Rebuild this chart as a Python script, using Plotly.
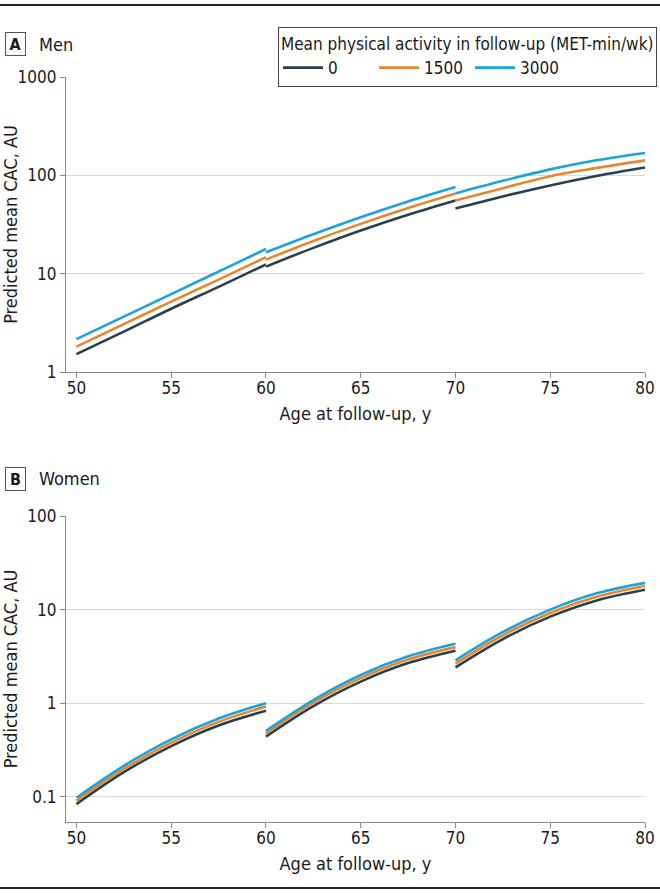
import plotly.graph_objects as go

# ---- data ----
ages_seg1 = [50, 52.5, 55, 57.5, 60]
ages_seg2 = [60, 62.5, 65, 67.5, 70]
ages_seg3 = [70, 72.5, 75, 77.5, 80]
activity_levels = ["0", "1500", "3000"]

# Men: predicted mean CAC (AU)
men_0 = [[1.52, 2.57, 4.4, 7.35, 12.4], [11.8, 18.3, 27.5, 39.8, 55.6], [46, 61, 79, 99, 120]]
men_1500 = [[1.81, 3.07, 5.2, 8.7, 14.7], [13.9, 21.5, 32.1, 46.6, 65.5], [55.6, 74, 98, 119, 142]]
men_3000 = [[2.16, 3.66, 6.2, 10.5, 17.8], [16.5, 25.2, 37.5, 54.2, 76], [65.5, 88, 115, 143, 169]]

# Women: predicted mean CAC (AU)
women_0 = [[0.0834, 0.183, 0.348, 0.578, 0.83], [0.439, 0.93, 1.70, 2.68, 3.63], [2.41, 4.84, 8.4, 12.6, 16.3]]
women_1500 = [[0.0906, 0.198, 0.378, 0.631, 0.92], [0.473, 1.01, 1.85, 2.92, 3.97], [2.64, 5.32, 9.2, 13.8, 17.9]]
women_3000 = [[0.0975, 0.214, 0.41, 0.685, 1.0], [0.506, 1.08, 2.0, 3.17, 4.32], [2.87, 5.77, 10.0, 15.0, 19.3]]

men_ticks = [1, 10, 100, 1000]
women_ticks = [0.1, 1, 10, 100]
x_ticks = [50, 55, 60, 65, 70, 75, 80]

colors = {"0": "#2a3f4d", "1500": "#e8862c", "3000": "#1ca3d9"}
FONT = "Liberation Sans Narrow, DejaVu Sans Condensed, Arial Narrow, sans-serif"
TXT = "#1a1a1a"
AX = "#8a8a8a"

fig = go.Figure()
segs = [ages_seg1, ages_seg2, ages_seg3]
men = {"0": men_0, "1500": men_1500, "3000": men_3000}
women = {"0": women_0, "1500": women_1500, "3000": women_3000}

for lvl in activity_levels:
    for i, ages in enumerate(segs):
        fig.add_trace(go.Scatter(
            x=ages, y=men[lvl][i], mode="lines", line=dict(color=colors[lvl], width=2.6, shape="spline"),
            name=lvl, legendgroup=lvl, showlegend=(i == 0), xaxis="x", yaxis="y"))
for lvl in activity_levels:
    for i, ages in enumerate(segs):
        fig.add_trace(go.Scatter(
            x=ages, y=women[lvl][i], mode="lines", line=dict(color=colors[lvl], width=2.6, shape="spline"),
            name=lvl, legendgroup=lvl, showlegend=False, xaxis="x2", yaxis="y2"))

W, H = 660, 893
def fy(py):
    return 1 - py / H
def fx(px):
    return px / W

xcommon = dict(range=[49.45, 80], domain=[fx(66), fx(645)], tickvals=x_ticks, ticks="outside",
               ticklen=5, tickcolor=AX, showline=True, linecolor=AX, linewidth=1.2, showgrid=False,
               zeroline=False, automargin=False, ticklabelstandoff=-5,
               tickfont=dict(size=17, color=TXT, family=FONT),
               title=dict(text="Age at follow-up, y", font=dict(size=18, color=TXT, family=FONT), standoff=10))
ycommon = dict(type="log", ticks="outside", ticklen=5, tickcolor=AX, showline=True, linecolor=AX,
               linewidth=1.2, showgrid=True, gridcolor="#d9d9d9", gridwidth=1, zeroline=False,
               automargin=False, tickfont=dict(size=17, color=TXT, family=FONT),
               title=dict(text="Predicted mean CAC, AU", font=dict(size=18, color=TXT, family=FONT), standoff=8))

fig.update_layout(
    width=W, height=H, margin=dict(l=0, r=0, t=0, b=0, pad=0, autoexpand=False),
    paper_bgcolor="white", plot_bgcolor="white",
    font=dict(family=FONT, color=TXT),
    xaxis=dict(anchor="y", **xcommon),
    yaxis=dict(anchor="x", domain=[fy(372), fy(77)], range=[0, 3],
               tickvals=men_ticks, ticktext=[str(t) for t in men_ticks], **ycommon),
    xaxis2=dict(anchor="y2", **xcommon),
    yaxis2=dict(anchor="x2", domain=[fy(822), fy(516)], range=[-1.27, 2],
                tickvals=women_ticks, ticktext=["0.1", "1", "10", "100"], **ycommon),
    legend=dict(orientation="h", x=fx(278), y=fy(27), xanchor="left", yanchor="top",
                bgcolor="white", bordercolor="#444", borderwidth=1,
                font=dict(size=17, color=TXT, family=FONT),
                title=dict(text="Mean physical activity in follow-up (MET-min/wk)", side="top",
                           font=dict(size=17, color=TXT, family=FONT)),
                itemwidth=40, tracegroupgap=0, entrywidth=41, entrywidthmode="pixels"),
    shapes=[
        dict(type="line", xref="paper", yref="paper", x0=0, x1=1, y0=fy(5), y1=fy(5),
             line=dict(color="#222", width=2)),
        dict(type="line", xref="paper", yref="paper", x0=0, x1=1, y0=fy(888), y1=fy(888),
             line=dict(color="#222", width=2)),
    ],
    annotations=[
        dict(text="<b>A</b>", x=fx(15.5), y=fy(44), xref="paper", yref="paper", showarrow=False,
             xanchor="center", yanchor="middle",
             font=dict(size=16, color=TXT, family=FONT), bordercolor="#555", borderwidth=1,
             borderpad=1, width=17, height=20),
        dict(text="Men", x=fx(37), y=fy(44), xref="paper", yref="paper", showarrow=False,
             xanchor="left", yanchor="middle", font=dict(size=18, color=TXT, family=FONT)),
        dict(text="<b>B</b>", x=fx(15.5), y=fy(479), xref="paper", yref="paper", showarrow=False,
             xanchor="center", yanchor="middle",
             font=dict(size=16, color=TXT, family=FONT), bordercolor="#555", borderwidth=1,
             borderpad=1, width=17, height=20),
        dict(text="Women", x=fx(37), y=fy(479), xref="paper", yref="paper", showarrow=False,
             xanchor="left", yanchor="middle", font=dict(size=18, color=TXT, family=FONT)),
    ],
)

fig.write_html("out.html")
